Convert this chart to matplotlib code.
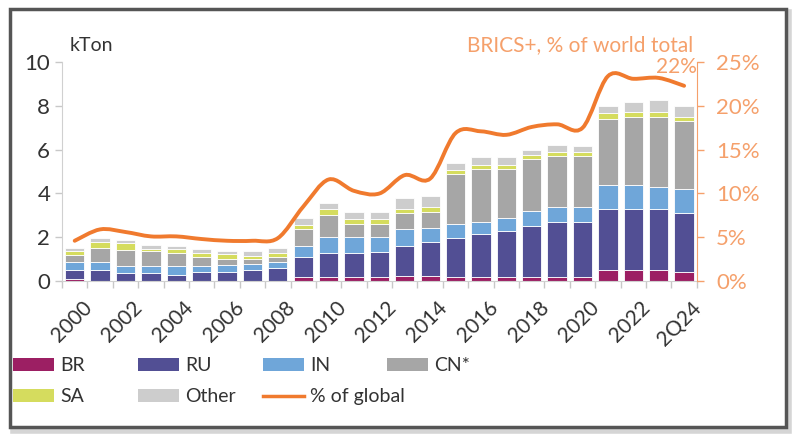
import numpy as np
import matplotlib
matplotlib.use("Agg")
import matplotlib.pyplot as plt
import matplotlib.transforms as mtransforms
from matplotlib.patches import Rectangle, PathPatch, Patch
from matplotlib.lines import Line2D
from matplotlib.path import Path

plt.rcParams['font.family'] = ['Lato', 'DejaVu Sans']

# Datos (kTon, acumulados por país)
years = ['2000', '2001', '2002', '2003', '2004', '2005', '2006', '2007', '2008',
         '2009', '2010', '2011', '2012', '2013', '2014', '2015', '2016', '2017',
         '2018', '2019', '2020', '2021', '2022', '2023', '2Q24']
br = [0.09, 0.02, 0.02, 0.02, 0.02, 0.02, 0.02, 0.02, 0.02, 0.2, 0.2, 0.2, 0.2,
      0.24, 0.24, 0.2, 0.2, 0.2, 0.2, 0.2, 0.2, 0.5, 0.5, 0.5, 0.43]
ru = [0.41, 0.48, 0.33, 0.33, 0.25, 0.41, 0.41, 0.48, 0.59, 0.9, 1.07, 1.07, 1.14,
      1.36, 1.56, 1.75, 1.93, 2.1, 2.33, 2.51, 2.51, 2.81, 2.81, 2.81, 2.69]
ind = [0.35, 0.35, 0.34, 0.34, 0.42, 0.26, 0.3, 0.28, 0.24, 0.5, 0.76, 0.76, 0.69,
       0.78, 0.64, 0.66, 0.57, 0.57, 0.69, 0.67, 0.67, 1.08, 1.08, 1.0, 1.08]
cn = [0.34, 0.65, 0.74, 0.68, 0.61, 0.42, 0.27, 0.21, 0.26, 0.78, 1.0, 0.59, 0.59,
      0.74, 0.7, 2.28, 2.44, 2.27, 2.34, 2.35, 2.35, 3.03, 3.11, 3.19, 3.13]
sa = [0.18, 0.3, 0.29, 0.11, 0.15, 0.19, 0.23, 0.15, 0.19, 0.18, 0.26, 0.2, 0.2,
      0.19, 0.23, 0.19, 0.18, 0.18, 0.19, 0.18, 0.18, 0.25, 0.23, 0.24, 0.17]
other = [0.15, 0.15, 0.15, 0.15, 0.17, 0.16, 0.14, 0.23, 0.22, 0.34, 0.28, 0.32, 0.32,
         0.5, 0.52, 0.33, 0.35, 0.35, 0.24, 0.32, 0.25, 0.33, 0.44, 0.51, 0.5]
pct_global = [4.6, 5.9, 5.6, 5.1, 5.1, 4.8, 4.6, 4.6, 4.9, 8.5, 11.6, 10.3, 10.0,
              12.1, 11.7, 16.9, 17.1, 16.7, 17.6, 17.9, 17.5, 23.4, 23.1, 23.2, 22.3]

series = [('BR', br, '#9C1F63'), ('RU', ru, '#524F94'), ('IN', ind, '#6FA6D9'),
          ('CN*', cn, '#A6A6A6'), ('SA', sa, '#D5DC5E'), ('Other', other, '#CDCDCD')]
naranja = '#F07A2E'
naranja_claro = '#F5A06B'
gris = '#333333'

fig = plt.figure(figsize=(8, 4.44), dpi=100)

# Marco con sombra (detrás de los ejes)
fig.patches.append(Rectangle((0.016, 0.03), 0.97, 0.942, transform=fig.transFigure,
                             facecolor='none', edgecolor='#D5D5D5', linewidth=4, zorder=-2))
fig.patches.append(Rectangle((0.0125, 0.038), 0.97, 0.942, transform=fig.transFigure,
                             facecolor='white', edgecolor='#555555', linewidth=2.5, zorder=-1))

ax = fig.add_axes([0.0775, 0.367, 0.7935, 0.493])
ax.set_facecolor('none')
x = np.arange(len(years))
base = np.zeros(len(years))
for nombre, valores, color in series:
    ax.bar(x, valores, bottom=base, width=0.76, color=color, edgecolor='white',
           linewidth=0.6, zorder=2)
    base = base + np.array(valores)

ax.set_xlim(-0.5, len(years) - 0.5)
ax.set_ylim(0, 10)
ax.set_yticks([0, 2, 4, 6, 8, 10])
ax.tick_params(axis='y', labelsize=16, colors='#C8C8C8', labelcolor=gris, length=5, width=1)
etiquetas = [i for i in range(0, len(years), 2)]
ax.set_xticks(etiquetas)
ax.set_xticklabels([years[i] for i in etiquetas], rotation=45, ha='right',
                   rotation_mode='anchor', fontsize=15, color=gris)
ax.tick_params(axis='x', length=0, pad=12)
desplaza = mtransforms.ScaledTranslation(5 / 72, 0, fig.dpi_scale_trans)
for lbl in ax.get_xticklabels():
    lbl.set_transform(lbl.get_transform() + desplaza)
ax.set_xticks(np.arange(-0.5, len(years), 1), minor=True)
ax.tick_params(axis='x', which='minor', length=5, width=1, colors='#C8C8C8')
for lado in ['top', 'right']:
    ax.spines[lado].set_visible(False)
ax.spines['left'].set_color('#D0D0D0')
ax.spines['bottom'].set_color('#D0D0D0')

# Eje derecho: % del total mundial (línea suavizada)
ax2 = ax.twinx()
ax2.set_ylim(0, 25)
ax2.set_yticks([0, 5, 10, 15, 20, 25])
ax2.set_yticklabels([f'{v}%' for v in [0, 5, 10, 15, 20, 25]])
ax2.tick_params(axis='y', labelsize=16, colors=naranja_claro, length=5, width=1, pad=9)
for lado in ['top', 'left', 'bottom']:
    ax2.spines[lado].set_visible(False)
ax2.spines['right'].set_color(naranja_claro)

p = np.column_stack([x, pct_global]).astype(float)
pe = np.vstack([p[0], p, p[-1]])
verts = [tuple(p[0])]
codes = [Path.MOVETO]
for i in range(1, len(pe) - 2):
    p0, p1, p2, p3 = pe[i - 1], pe[i], pe[i + 1], pe[i + 2]
    c1 = p1 + (p2 - p0) / 6
    c2 = p2 - (p3 - p1) / 6
    verts += [tuple(c1), tuple(c2), tuple(p2)]
    codes += [Path.CURVE4] * 3
ax2.add_patch(PathPatch(Path(verts, codes), facecolor='none', edgecolor=naranja,
                        linewidth=2.8, zorder=3, capstyle='round'))

fig.text(0.0875, 0.898, 'kTon', fontsize=14, color=gris, va='center')
fig.text(0.866, 0.898, 'BRICS+, % of world total', fontsize=15, color=naranja_claro,
         ha='right', va='center')
fig.text(0.871, 0.848, '22%', fontsize=15, color=naranja_claro, ha='right', va='center')

# Leyenda en cuatro columnas
columnas = [[0, 4], [1, 5], [2, None], [3, None]]
xs = [0.012, 0.168, 0.324, 0.479]
for col, x0 in zip(columnas, xs):
    handles = []
    for idx in col:
        if idx is None:
            continue
        nombre, _, color = series[idx]
        handles.append(Patch(facecolor=color, edgecolor='none', label=nombre))
    if col == [2, None]:
        handles.append(Line2D([], [], color=naranja, linewidth=2.5, label='% of global'))
    fig.legend(handles=handles, loc='upper left', bbox_to_anchor=(x0, 0.205),
               frameon=False, fontsize=14, handlelength=2.1, handleheight=0.65,
               handletextpad=0.3, labelspacing=0.75, labelcolor=gris,
               borderaxespad=0, borderpad=0.2)

fig.savefig('out.png', dpi=100)
